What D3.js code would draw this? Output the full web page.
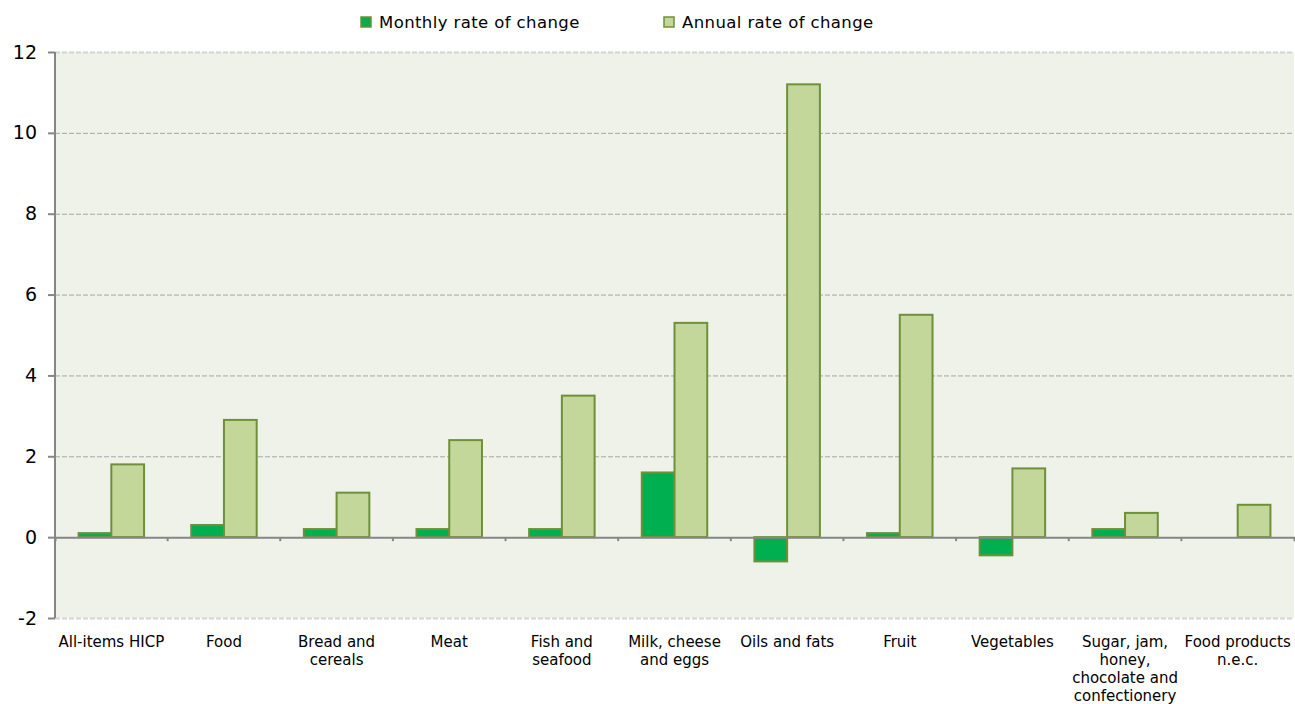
<!DOCTYPE html>
<html>
<head>
<meta charset="utf-8">
<script src="https://cdn.jsdelivr.net/npm/d3@7"></script>
<style>
  body { margin: 0; background: #fff; }
  text { font-family: Verdana, "DejaVu Sans", sans-serif; fill: #000; }
</style>
</head>
<body>
<div id="chart"></div>
<script>
// Chart values.
var categories = ["All-items HICP", "Food", "Bread and cereals", "Meat", "Fish and seafood",
  "Milk, cheese and eggs", "Oils and fats", "Fruit", "Vegetables",
  "Sugar, jam, honey, chocolate and confectionery", "Food products n.e.c."];
// How each category label breaks into lines under the axis.
var labelLines = [["All-items HICP"], ["Food"], ["Bread and", "cereals"], ["Meat"],
  ["Fish and", "seafood"], ["Milk, cheese", "and eggs"], ["Oils and fats"], ["Fruit"],
  ["Vegetables"], ["Sugar, jam,", "honey,", "chocolate and", "confectionery"],
  ["Food products", "n.e.c."]];
var seriesNames = ["Monthly rate of change", "Annual rate of change"];
var monthly = [0.1, 0.3, 0.2, 0.2, 0.2, 1.6, -0.6, 0.1, -0.45, 0.2, 0];
var annual = [1.8, 2.9, 1.1, 2.4, 3.5, 5.3, 11.2, 5.5, 1.7, 0.6, 0.8];
var yTicks = [-2, 0, 2, 4, 6, 8, 10, 12];

var width = 1295, height = 704;
var margin = { top: 52, right: 1, bottom: 86, left: 55 };
var fills = ["#00b050", "#c4d79b"];
var stroke = "#6f8f3a";

var svg = d3.select("#chart").append("svg")
    .attr("width", width)
    .attr("height", height);

var x = d3.scaleBand()
    .domain(categories)
    .range([margin.left, width - margin.right]);

var y = d3.scaleLinear()
    .domain([-2, 12])
    .range([height - margin.bottom, margin.top]);

var inner = d3.scaleBand()
    .domain(seriesNames)
    .range([0, x.bandwidth()])
    .paddingOuter(0.72)
    .paddingInner(0);

// Plot background
svg.append("rect")
    .attr("x", margin.left)
    .attr("y", margin.top)
    .attr("width", width - margin.left - margin.right)
    .attr("height", height - margin.top - margin.bottom)
    .attr("fill", "#eff2e9");

// Gridlines (top and bottom ones are the lighter plot border)
svg.append("g").selectAll("line")
    .data(yTicks.filter(function(d) { return d !== 0; }))
    .enter().append("line")
    .attr("x1", margin.left)
    .attr("x2", width - margin.right)
    .attr("y1", function(d) { return y(d) + 0.5; })
    .attr("y2", function(d) { return y(d) + 0.5; })
    .attr("stroke", function(d) { return (d === 12 || d === -2) ? "#d4d4d4" : "#a6a6a6"; })
    .attr("stroke-width", function(d) { return (d === 12 || d === -2) ? 2 : 1; })
    .attr("stroke-dasharray", "5,2");

// Bars
var barData = [];
[monthly, annual].forEach(function(values, s) {
  values.forEach(function(v, i) {
    if (v !== 0) barData.push({ cat: categories[i], series: seriesNames[s], s: s, value: v });
  });
});

svg.append("g").selectAll("rect")
    .data(barData)
    .enter().append("rect")
    .attr("x", function(d) { return x(d.cat) + inner(d.series); })
    .attr("y", function(d) { return y(Math.max(0, d.value)); })
    .attr("width", inner.bandwidth())
    .attr("height", function(d) { return Math.abs(y(d.value) - y(0)); })
    .attr("fill", function(d) { return fills[d.s]; })
    .attr("stroke", stroke)
    .attr("stroke-width", 2);

// Zero line with category ticks
var xAxis = d3.axisBottom(x).tickSize(4).tickFormat("");
var xg = svg.append("g")
    .attr("transform", "translate(0," + y(0) + ")")
    .call(xAxis);
xg.select(".domain").attr("stroke", "#868686").attr("stroke-width", 2);
xg.selectAll(".tick").attr("transform", function(d) {
  return "translate(" + x(d) + ",0)";
});
xg.selectAll(".tick line").attr("stroke", "#868686").attr("stroke-width", 2)
    .filter(function(d, i) { return i === 0; }).remove();

// Y axis
var yAxis = d3.axisLeft(y).tickValues(yTicks).tickSize(7).tickPadding(11)
    .tickFormat(function(d) { return String(d); });
var yg = svg.append("g")
    .attr("transform", "translate(" + margin.left + ",0)")
    .call(yAxis);
yg.select(".domain").attr("stroke", "#868686").attr("stroke-width", 2).attr("d",
  "M0," + y(12) + "V" + y(-2));
yg.selectAll(".tick line").attr("stroke", "#868686").attr("stroke-width", 2);
yg.selectAll(".tick text")
    .style("font-size", "19px")
    .style("font-family", "Verdana, 'DejaVu Sans', sans-serif")
    .attr("fill", "#000");

// Category labels
var labels = svg.append("g").selectAll("text")
    .data(categories)
    .enter().append("text")
    .attr("text-anchor", "middle")
    .style("font-size", "15px")
    .attr("transform", function(d) {
      return "translate(" + (x(d) + x.bandwidth() / 2) + "," + (y(-2) + 29) + ")";
    });
labels.selectAll("tspan")
    .data(function(d, i) { return labelLines[i]; })
    .enter().append("tspan")
    .attr("x", 0)
    .attr("dy", function(d, i) { return i ? 18 : 0; })
    .text(function(d) { return d; });

// Legend
var legendX = [361, 664];
var legend = svg.append("g").selectAll("g")
    .data(seriesNames)
    .enter().append("g")
    .attr("transform", function(d, i) { return "translate(" + legendX[i] + ",17)"; });
legend.append("rect")
    .attr("width", 10)
    .attr("height", 10)
    .attr("fill", function(d, i) { return fills[i]; })
    .attr("stroke", stroke)
    .attr("stroke-width", 1.5);
legend.append("text")
    .attr("x", 18)
    .attr("y", 11)
    .style("font-size", "16.5px")
    .style("letter-spacing", "0.4px")
    .text(function(d) { return d; });
</script>
</body>
</html>
